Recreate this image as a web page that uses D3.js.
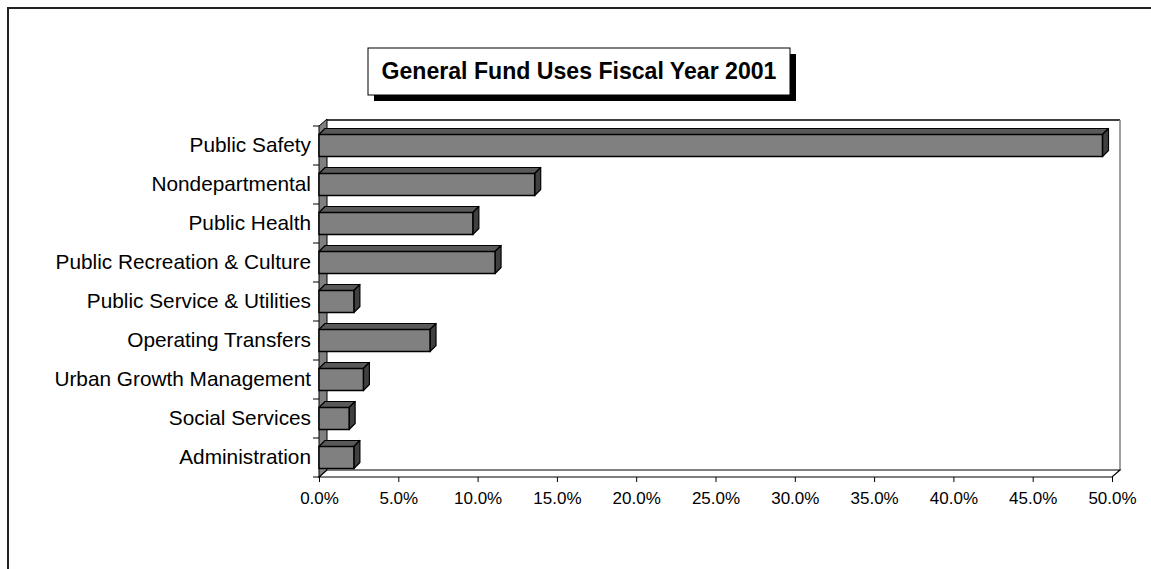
<!DOCTYPE html>
<html>
<head>
<meta charset="utf-8">
<script src="https://cdn.jsdelivr.net/npm/d3@7"></script>
<style>
  html, body { margin: 0; padding: 0; background: #fff; }
  svg { display: block; }
</style>
</head>
<body>
<svg id="chart" width="1151" height="569"></svg>
<script>
// General Fund uses, share of total budget
const categories = [
  "Public Safety",
  "Nondepartmental",
  "Public Health",
  "Public Recreation & Culture",
  "Public Service & Utilities",
  "Operating Transfers",
  "Urban Growth Management",
  "Social Services",
  "Administration"
];
const shares = [0.494, 0.136, 0.097, 0.111, 0.022, 0.070, 0.028, 0.019, 0.022];
const tickValues = [0, 0.05, 0.10, 0.15, 0.20, 0.25, 0.30, 0.35, 0.40, 0.45, 0.50];
const titleText = "General Fund Uses Fiscal Year 2001";

const svg = d3.select("#chart");
const font = "'Liberation Sans', Arial, sans-serif";

// frame around the chart area
svg.append("path")
  .attr("d", "M8,569 L8,8 L1151,8")
  .attr("fill", "none").attr("stroke", "#222").attr("stroke-width", 2);

// front plane geometry and 3D depth offsets
const plotL = 319, plotR = 1112, plotT = 126, plotB = 477;
const wdx = 8, wdy = 7;      // wall depth
const bdx = 6, bdy = 6;      // bar depth

const x = d3.scaleLinear().domain([0, 0.5]).range([plotL, plotR]);
const y = d3.scaleBand().domain(categories).range([plotT, plotB]).paddingInner(0).paddingOuter(0);
const barH = 22;

// back wall
svg.append("path")
  .attr("d", `M${plotL + wdx},${plotB - wdy} L${plotL + wdx},${plotT - wdy + 1} L${plotR + wdx},${plotT - wdy + 1} L${plotR + wdx},${plotB - wdy}`)
  .attr("fill", "#fff").attr("stroke", "none");
svg.append("line")
  .attr("x1", plotL + wdx).attr("y1", plotT - wdy + 1).attr("x2", plotR + wdx).attr("y2", plotT - wdy + 1)
  .attr("stroke", "#000").attr("stroke-width", 1.5);
svg.append("line")
  .attr("x1", plotR + wdx).attr("y1", plotT - wdy + 1).attr("x2", plotR + wdx).attr("y2", plotB - wdy)
  .attr("stroke", "#808080").attr("stroke-width", 1.5);

// left side wall
svg.append("path")
  .attr("d", `M${plotL},${plotB} L${plotL},${plotT} L${plotL + wdx},${plotT - wdy} L${plotL + wdx},${plotB - wdy} Z`)
  .attr("fill", "#808080").attr("stroke", "#000").attr("stroke-width", 1);

// floor
svg.append("path")
  .attr("d", `M${plotL},${plotB} L${plotL + wdx},${plotB - wdy} L${plotR + wdx},${plotB - wdy} L${plotR},${plotB} Z`)
  .attr("fill", "#fff").attr("stroke", "#000").attr("stroke-width", 1.2);

// bars: front, top and end faces
const bars = svg.append("g").selectAll("g").data(categories).join("g");
bars.each(function (c, i) {
  const g = d3.select(this);
  const x0 = x(0), x1 = x(shares[i]);
  const yc = y(c) + y.bandwidth() / 2;
  const y0 = yc - barH / 2, y1 = yc + barH / 2;
  g.append("path") // top face
    .attr("d", `M${x0},${y0} L${x0 + bdx},${y0 - bdy} L${x1 + bdx},${y0 - bdy} L${x1},${y0} Z`)
    .attr("fill", "#595959").attr("stroke", "#000").attr("stroke-width", 1.2).attr("stroke-linejoin", "round");
  g.append("path") // end face
    .attr("d", `M${x1},${y0} L${x1 + bdx},${y0 - bdy} L${x1 + bdx},${y1 - bdy} L${x1},${y1} Z`)
    .attr("fill", "#404040").attr("stroke", "#000").attr("stroke-width", 1.2).attr("stroke-linejoin", "round");
  g.append("rect") // front face
    .attr("x", x0).attr("y", y0).attr("width", x1 - x0).attr("height", barH)
    .attr("fill", "#808080").attr("stroke", "#000").attr("stroke-width", 1.5);
});

// value axis along the front edge of the floor
const xAxis = d3.axisBottom(x).tickValues(tickValues).tickFormat(d3.format(".1%")).tickSize(5).tickSizeOuter(0);
const gx = svg.append("g").attr("transform", `translate(0,${plotB})`).call(xAxis);
gx.select(".domain").remove();
gx.selectAll(".tick line").attr("stroke", "#000");
gx.selectAll(".tick text").attr("font-family", font).attr("font-size", 17).attr("fill", "#000")
  .attr("y", 27).attr("dy", 0);

// category axis along the front edge of the side wall
const yAxis = d3.axisLeft(y).tickSize(0).tickPadding(8);
const gy = svg.append("g").attr("transform", `translate(${plotL},0)`).call(yAxis);
gy.select(".domain").remove();
gy.selectAll(".tick text").attr("font-family", font).attr("font-size", 20.8).attr("fill", "#000");
// tick marks between categories
const bounds = categories.map(c => y(c)).concat([plotB]);
svg.append("g").selectAll("line").data(bounds).join("line")
  .attr("x1", plotL - 6).attr("x2", plotL).attr("y1", d => d).attr("y2", d => d)
  .attr("stroke", "#000").attr("stroke-width", 1);

// title box with drop shadow
const tb = { x: 368, y: 48, w: 422, h: 47 };
svg.append("rect").attr("x", tb.x + 6).attr("y", tb.y + 6).attr("width", tb.w).attr("height", tb.h).attr("fill", "#000");
svg.append("rect").attr("x", tb.x).attr("y", tb.y).attr("width", tb.w).attr("height", tb.h)
  .attr("fill", "#fff").attr("stroke", "#000").attr("stroke-width", 1);
svg.append("text")
  .attr("x", tb.x + tb.w / 2).attr("y", 79)
  .attr("text-anchor", "middle").attr("font-family", font).attr("font-weight", "bold").attr("font-size", 23.1)
  .text(titleText);
</script>
</body>
</html>
